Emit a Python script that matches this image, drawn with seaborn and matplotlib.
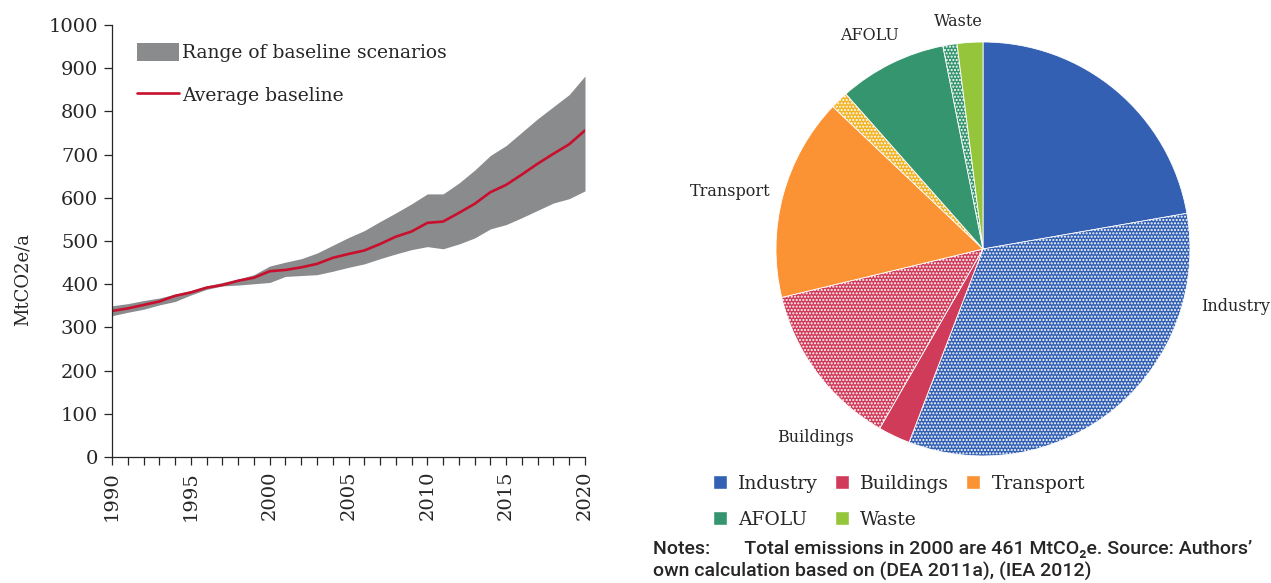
import matplotlib
matplotlib.use("Agg")
import matplotlib.pyplot as plt
import seaborn as sns
import pandas as pd
from matplotlib.patches import Patch
from matplotlib.lines import Line2D

sns.set_style("ticks")
SERIF = ["DejaVu Serif"]
NARROW = ["Roboto", "DejaVu Sans"]
plt.rcParams["font.family"] = SERIF

# ---- left panel data (MtCO2e/a) ----
years = list(range(1990, 2021))
avg_baseline = [338, 344, 352, 360, 373, 381, 392, 398, 408, 415,
                430, 433, 439, 447, 461, 470, 478, 493, 510, 522,
                542, 545, 565, 586, 613, 630, 654, 679, 702, 724, 756]
upper_range = [350, 355, 362, 368, 377, 385, 396, 404, 412, 422,
               442, 451, 459, 472, 490, 508, 524, 545, 565, 586,
               609, 609, 634, 664, 698, 721, 752, 783, 811, 839, 882]
lower_range = [327, 335, 342, 352, 360, 375, 388, 396, 398, 401,
               404, 418, 420, 422, 430, 439, 447, 459, 470, 480,
               487, 482, 493, 507, 528, 538, 554, 571, 588, 598, 616]

# ---- right panel data (% of 2000 total) ----
sectors = ["Industry", "Buildings", "Transport", "AFOLU", "Waste"]
solid_share = [22.2, 2.5, 15.8, 8.4, 2.0]
dotted_share = [33.5, 12.9, 1.4, 1.1, 0.0]
sector_colors = ["#3360B3", "#D13B5A", "#FB9234", "#35956F", "#95C53A"]
dotted_colors = ["#3360B3", "#D13B5A", "#F2B324", "#35956F", "#95C53A"]

GREY = "#8A8B8D"
RED = "#C8102E"

fig = plt.figure(figsize=(12.71, 5.83), dpi=100)

# ---------------- line / band chart ----------------
ax = fig.add_axes([112 / 1271, 1 - 457 / 583, 473 / 1271, 432 / 583])
df = pd.DataFrame({"year": years, "avg": avg_baseline,
                   "lo": lower_range, "hi": upper_range})
ax.fill_between(df["year"], df["lo"], df["hi"], color=GREY, linewidth=0)
sns.lineplot(data=df, x="year", y="avg", color=RED, linewidth=1.9, ax=ax)

ax.set_xlim(1990, 2020)
ax.set_ylim(0, 1000)
ax.set_yticks(range(0, 1001, 100))
ax.set_xticks(range(1990, 2021, 5))
ax.set_xticks(years, minor=True)
ax.tick_params(axis="x", which="both", length=6, width=0.9, direction="out",
               labelrotation=90, labelsize=14, pad=4)
ax.tick_params(axis="y", length=6, width=0.9, labelsize=14, pad=4)
ax.set_xlabel("")
ax.set_ylabel("MtCO2e/a", fontsize=13)
ax.yaxis.set_label_coords(-0.17, 0.41)
sns.despine(ax=ax)
for s in ("left", "bottom"):
    ax.spines[s].set_linewidth(0.9)

handles = [Patch(facecolor=GREY, edgecolor="none"),
           Line2D([], [], color=RED, linewidth=1.9)]
ax.legend(handles, ["Range of baseline scenarios", "Average baseline"],
          loc="upper left", bbox_to_anchor=(0.03, 0.985), frameon=False,
          fontsize=13.5, handlelength=2.2, handleheight=1.1,
          handletextpad=0.2, labelspacing=1.25, borderaxespad=0.2)

# ---------------- pie chart ----------------
R = 207
cx, cy = 983, 249
lim = 1.02
side = 2 * R * lim
pax = fig.add_axes([(cx - side / 2) / 1271, 1 - (cy + side / 2) / 583,
                    side / 1271, side / 583])

values, colors, hatches = [], [], []
for i in range(len(sectors)):
    if solid_share[i] > 0:
        values.append(solid_share[i])
        colors.append(sector_colors[i])
        hatches.append(None)
    if dotted_share[i] > 0:
        values.append(dotted_share[i])
        colors.append(dotted_colors[i])
        hatches.append(".....")

wedges, _ = pax.pie(values, colors=colors, startangle=90, counterclock=False,
                    wedgeprops=dict(edgecolor="white", linewidth=0.6))
for w, h in zip(wedges, hatches):
    if h:
        w.set_hatch(h)
pax.set_xlim(-lim, lim)
pax.set_ylim(-lim, lim)
pax.set_aspect("equal")
pax.axis("off")

label_pos = {"Industry": (1.22, -0.28), "Buildings": (-0.81, -0.91),
             "Transport": (-1.22, 0.28), "AFOLU": (-0.55, 1.03),
             "Waste": (-0.12, 1.10)}
for name, (lx, ly) in label_pos.items():
    pax.text(lx, ly, name, ha="center", va="center", fontsize=11.5)

# legend: row 1 Industry/Buildings/Transport, row 2 AFOLU/Waste
order = [0, 3, 1, 4, 2]
leg_handles = [Patch(facecolor=sector_colors[i]) for i in order]
leg_labels = [sectors[i] for i in order]
fig.legend(leg_handles, leg_labels, ncol=3, frameon=False,
           loc="upper left", bbox_to_anchor=(696 / 1271, 1 - 458 / 583),
           fontsize=13.5, handlelength=0.75, handleheight=0.75,
           handletextpad=0.6, columnspacing=0.9, labelspacing=0.95)

fig.text(653 / 1271, 1 - 549 / 583,
         "Notes:       Total emissions in 2000 are 461 MtCO\u2082e. Source: Authors\u2019",
         family=NARROW, fontsize=14, va="center", ha="left", fontweight="medium")
fig.text(653 / 1271, 1 - 571 / 583,
         "own calculation based on (DEA 2011a), (IEA 2012)",
         family=NARROW, fontsize=14, va="center", ha="left", fontweight="medium")

fig.savefig("out.png", dpi=100)
